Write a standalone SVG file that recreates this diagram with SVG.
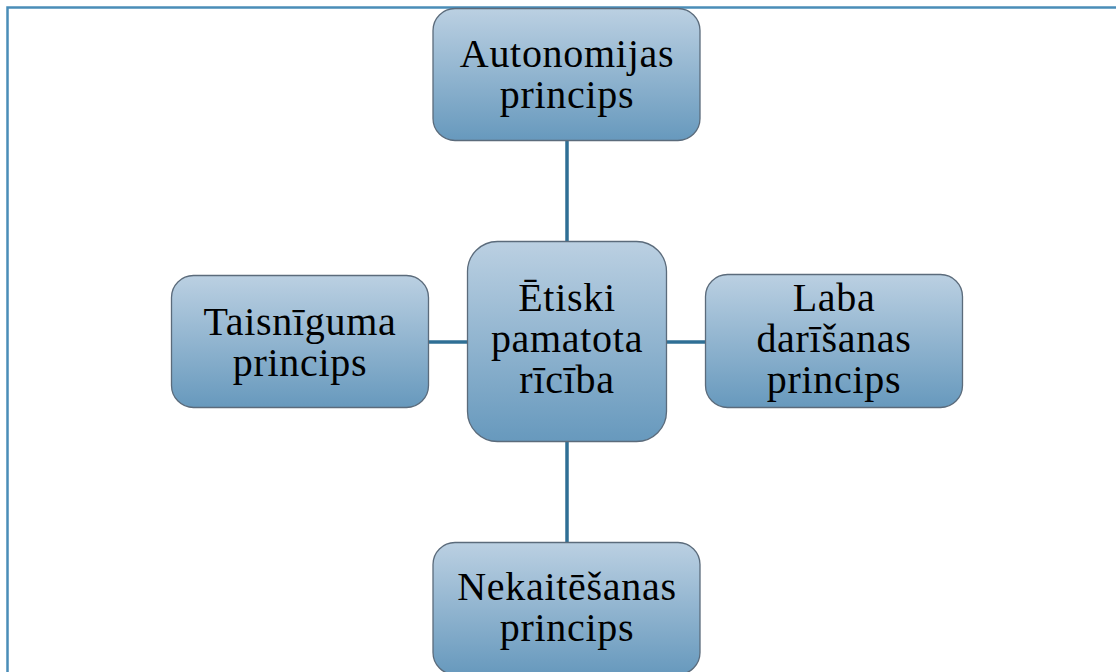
<svg xmlns="http://www.w3.org/2000/svg" width="1116" height="672" viewBox="0 0 1116 672">
<style>
.node{fill:url(#g);stroke:#5b6b7b;stroke-width:1.3}
.t{font-family:"Liberation Serif",serif;font-size:40px;letter-spacing:0.7px;fill:#000;text-anchor:middle}
.c{stroke:#2f6f95;stroke-width:3.5;fill:none}
</style>
<defs>
<linearGradient id="g" x1="0" y1="0" x2="0" y2="1">
<stop offset="0" stop-color="#bbd0e2"/>
<stop offset="1" stop-color="#6799bd"/>
</linearGradient>
</defs>
<rect width="1116" height="672" fill="#fff"/>
<path d="M7.5 672 V7.5 H1116" stroke="#4a8db8" stroke-width="2.5" fill="none"/>
<g id="connectors">
<line class="c" x1="567" y1="140" x2="567" y2="242"/>
<line class="c" x1="567" y1="442" x2="567" y2="543"/>
<line class="c" x1="429" y1="342" x2="468" y2="342"/>
<line class="c" x1="666" y1="342" x2="706" y2="342"/>
</g>
<g id="n-top">
<rect class="node" x="433" y="8.5" width="267" height="132" rx="22"/>
<text class="t" x="567" y="67">Autonomijas</text>
<text class="t" x="567" y="108">princips</text>
</g>
<g id="n-center">
<rect class="node" x="467.5" y="241.5" width="199" height="200" rx="30"/>
<text class="t" x="567" y="311">Ētiski</text>
<text class="t" x="567" y="352">pamatota</text>
<text class="t" x="567" y="393">rīcība</text>
</g>
<g id="n-left">
<rect class="node" x="171.5" y="275.5" width="257" height="132" rx="22"/>
<text class="t" x="300" y="335">Taisnīguma</text>
<text class="t" x="300" y="376">princips</text>
</g>
<g id="n-right">
<rect class="node" x="705.5" y="274.5" width="257" height="133" rx="22"/>
<text class="t" x="834" y="311">Laba</text>
<text class="t" x="834" y="352">darīšanas</text>
<text class="t" x="834" y="393">princips</text>
</g>
<g id="n-bottom">
<rect class="node" x="433" y="542.5" width="267" height="132" rx="22"/>
<text class="t" x="567" y="600">Nekaitēšanas</text>
<text class="t" x="567" y="641">princips</text>
</g>
</svg>
